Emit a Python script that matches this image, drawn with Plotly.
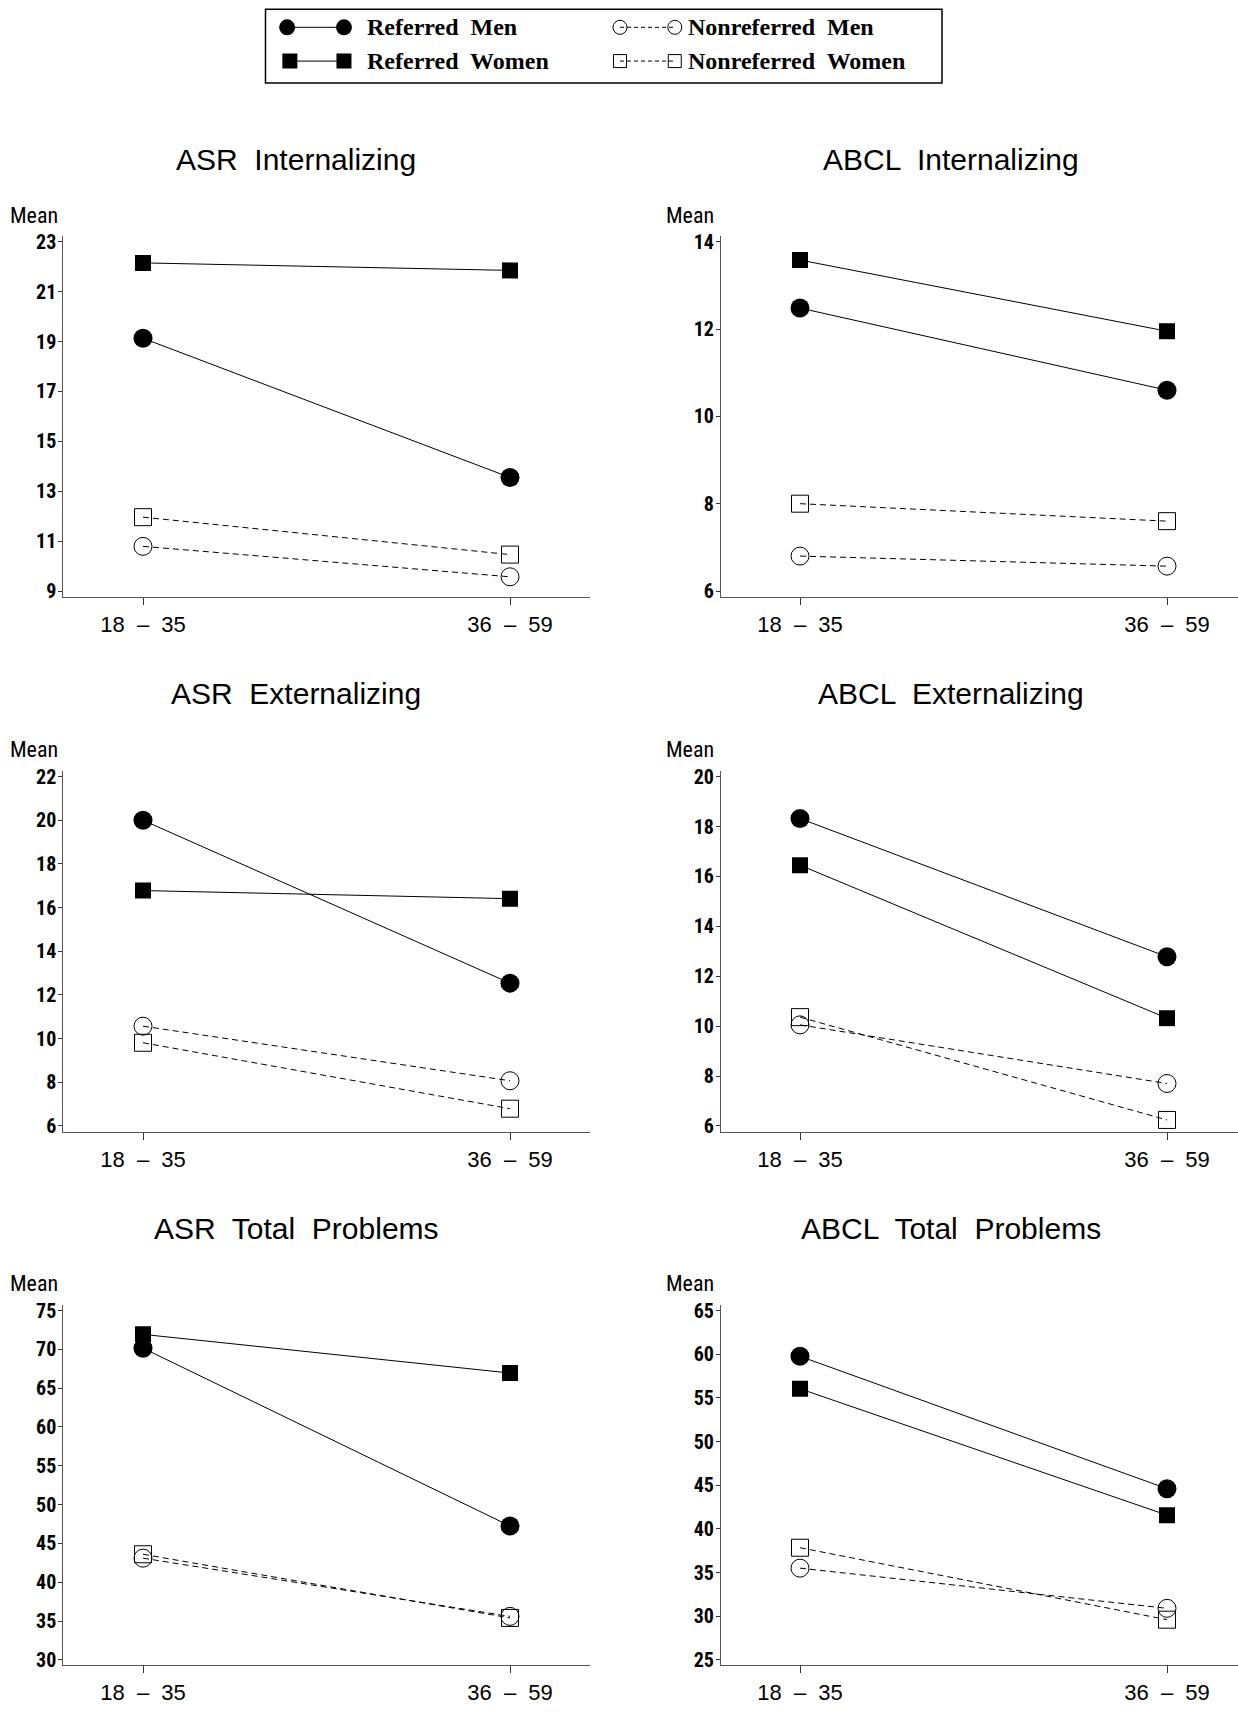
import plotly.graph_objects as go

W, H = 1238, 1713

# ---------------- data ----------------
age_groups = ["18  \u2013  35", "36  \u2013  59"]
panel_titles = ["ASR  Internalizing", "ABCL  Internalizing",
                "ASR  Externalizing", "ABCL  Externalizing",
                "ASR  Total  Problems", "ABCL  Total  Problems"]

referred_men = [[19.13, 13.55], [12.48, 10.60], [20.00, 12.54],
                [18.32, 12.78], [70.15, 47.24], [59.76, 44.60]]
referred_women = [[22.15, 21.85], [13.58, 11.95], [16.78, 16.41],
                  [16.45, 10.32], [71.93, 66.95], [56.04, 41.57]]
nonreferred_men = [[10.79, 9.57], [6.80, 6.57], [10.57, 8.07],
                   [10.05, 7.70], [43.10, 35.60], [35.50, 30.90]]
nonreferred_women = [[11.96, 10.46], [8.00, 7.60], [9.81, 6.79],
                     [10.36, 6.24], [43.60, 35.40], [37.84, 29.60]]

y_tick_lo = [9, 6, 6, 6, 30, 25]
y_tick_hi = [23, 14, 22, 20, 75, 65]
y_tick_step = [2, 2, 2, 2, 5, 5]

series_names = ["Referred Men", "Referred Women", "Nonreferred Men", "Nonreferred Women"]

# ---------------- layout geometry (pixels) ----------------
col_x = [(63.4, 590.0), (721.0, 1238.0)]
cat_px = [(143.0, 510.0), (800.0, 1167.0)]
row_axis = [(231.5, 595.5), (770.5, 1134.5), (1308.5, 1671.5)]
row_ticks = [(237.5, 589.5), (776.5, 1128.5), (1314.5, 1666.5)]
title_y = [155, 693, 1232]
title_x = [296, 951]
mean_y = [211, 749, 1287]
mean_x = [34, 690]

TICKFONT = "Liberation Sans Narrow, Roboto Condensed, Liberation Sans, Arial"
REGFONT = "Liberation Sans, Arial, Helvetica"
SERIF = "Liberation Serif, Times New Roman, serif"

def fx(px):
    return px / W

def fy(py):
    return 1 - py / H

styles = {
    "Referred Men": dict(symbol="circle", size=19, dash="solid"),
    "Referred Women": dict(symbol="square", size=16, dash="solid"),
    "Nonreferred Men": dict(symbol="circle-open", size=18, dash="6px,4px"),
    "Nonreferred Women": dict(symbol="square-open", size=17, dash="6px,4px"),
}

fig = go.Figure()
layout = dict(width=W, height=H, margin=dict(l=0, r=0, t=0, b=0),
              paper_bgcolor="white", plot_bgcolor="white", showlegend=False)
annotations = []
shapes = []

all_series = [referred_men, referred_women, nonreferred_men, nonreferred_women]

for i in range(6):
    r, c = divmod(i, 2)
    n = i + 1
    xa = "x" if n == 1 else f"x{n}"
    ya = "y" if n == 1 else f"y{n}"
    xkey = "xaxis" if n == 1 else f"xaxis{n}"
    ykey = "yaxis" if n == 1 else f"yaxis{n}"

    x0p, x1p = col_x[c]
    c0, c1 = cat_px[c]
    ppc = c1 - c0
    xr = [(x0p - c0) / ppc, (x1p - c0) / ppc]

    top, bot = row_axis[r]
    ttop, tbot = row_ticks[r]
    lo, hi = y_tick_lo[i], y_tick_hi[i]
    ppu = (tbot - ttop) / (hi - lo)
    yr = [lo - (bot - tbot) / ppu, hi + (ttop - top) / ppu]

    for name, data in zip(series_names, all_series):
        st = styles[name]
        open_m = "open" in st["symbol"]
        fig.add_trace(go.Scatter(
            x=[0, 1], y=data[i], mode="lines+markers", name=name,
            xaxis=xa, yaxis=ya,
            line=dict(color="black", width=1, dash=st["dash"]),
            marker=dict(symbol=st["symbol"], size=st["size"], color="black",
                        line=dict(color="black", width=1 if open_m else 0)),
            hoverinfo="skip"))

    layout[xkey] = dict(domain=[fx(x0p), fx(x1p)], anchor=ya, range=xr,
                        tickmode="array", tickvals=[0, 1], ticktext=age_groups,
                        showline=True, linecolor="#555", linewidth=1.2,
                        ticks="outside", ticklen=7, tickcolor="#333", tickwidth=1,
                        showgrid=False, zeroline=False, fixedrange=True,
                        ticklabelstandoff=1,
                        tickfont=dict(family=REGFONT, size=22, color="black"))
    layout[ykey] = dict(domain=[fy(bot), fy(top)], anchor=xa, range=yr,
                        tickmode="linear", tick0=lo, dtick=y_tick_step[i],
                        showline=True, linecolor="#555", linewidth=1.2,
                        ticks="outside", ticklen=4, tickcolor="#333", tickwidth=1,
                        showgrid=False, zeroline=False, fixedrange=True,
                        ticklabelstandoff=-2,
                        tickfont=dict(family=TICKFONT, size=20, color="black", weight="bold"))

    annotations.append(dict(text=panel_titles[i], xref="paper", yref="paper",
                            x=fx(title_x[c]), y=fy(title_y[r]), xanchor="center", yanchor="middle",
                            showarrow=False, font=dict(family=REGFONT, size=30, color="black")))
    annotations.append(dict(text="Mean", xref="paper", yref="paper",
                            x=fx(mean_x[c]), y=fy(mean_y[r]), xanchor="center", yanchor="middle",
                            showarrow=False, font=dict(family=TICKFONT, size=22, color="black")))

# ---------------- custom legend ----------------
box = (265.5, 8.7, 942.0, 83.0)
shift = -5.5
shapes.append(dict(type="rect", xref="paper", yref="paper",
                   x0=fx(box[0]), x1=fx(box[2]), y0=fy(box[3] + shift), y1=fy(box[1] + shift),
                   line=dict(color="black", width=1.5), fillcolor="rgba(0,0,0,0)"))
layout["xaxis7"] = dict(domain=[fx(box[0]), fx(box[2])], range=[0, 1], visible=False,
                        anchor="y7", fixedrange=True)
layout["yaxis7"] = dict(domain=[fy(box[3] + shift), fy(box[1] + shift)], range=[0, 1], visible=False,
                        anchor="x7", fixedrange=True)
leg_pos = {
    "Referred Men": (0.032, 0.116, 0.754, 0.147),
    "Referred Women": (0.036, 0.116, 0.296, 0.147),
    "Nonreferred Men": (0.524, 0.605, 0.754, 0.622),
    "Nonreferred Women": (0.524, 0.605, 0.296, 0.622),
}
leg_sizes = {"Referred Men": 16, "Referred Women": 15, "Nonreferred Men": 14, "Nonreferred Women": 13}
for name in series_names:
    st = styles[name]
    a, b, yy, tx = leg_pos[name]
    open_m = "open" in st["symbol"]
    fig.add_trace(go.Scatter(
        x=[a, b], y=[yy, yy], mode="lines+markers", xaxis="x7", yaxis="y7",
        line=dict(color="black", width=1, dash="solid" if not open_m else "4px,3px"),
        marker=dict(symbol=st["symbol"], size=leg_sizes[name], color="black",
                    line=dict(color="black", width=1 if open_m else 0)),
        hoverinfo="skip", showlegend=False))
    annotations.append(dict(text="<b>" + name.replace(" ", "  ") + "</b>", xref="x7", yref="y7",
                            x=tx, y=yy, xanchor="left", yanchor="middle", showarrow=False,
                            font=dict(family=SERIF, size=24, color="black")))

layout["annotations"] = annotations
layout["shapes"] = shapes
fig.update_layout(**layout)
fig.write_html("out.html")
